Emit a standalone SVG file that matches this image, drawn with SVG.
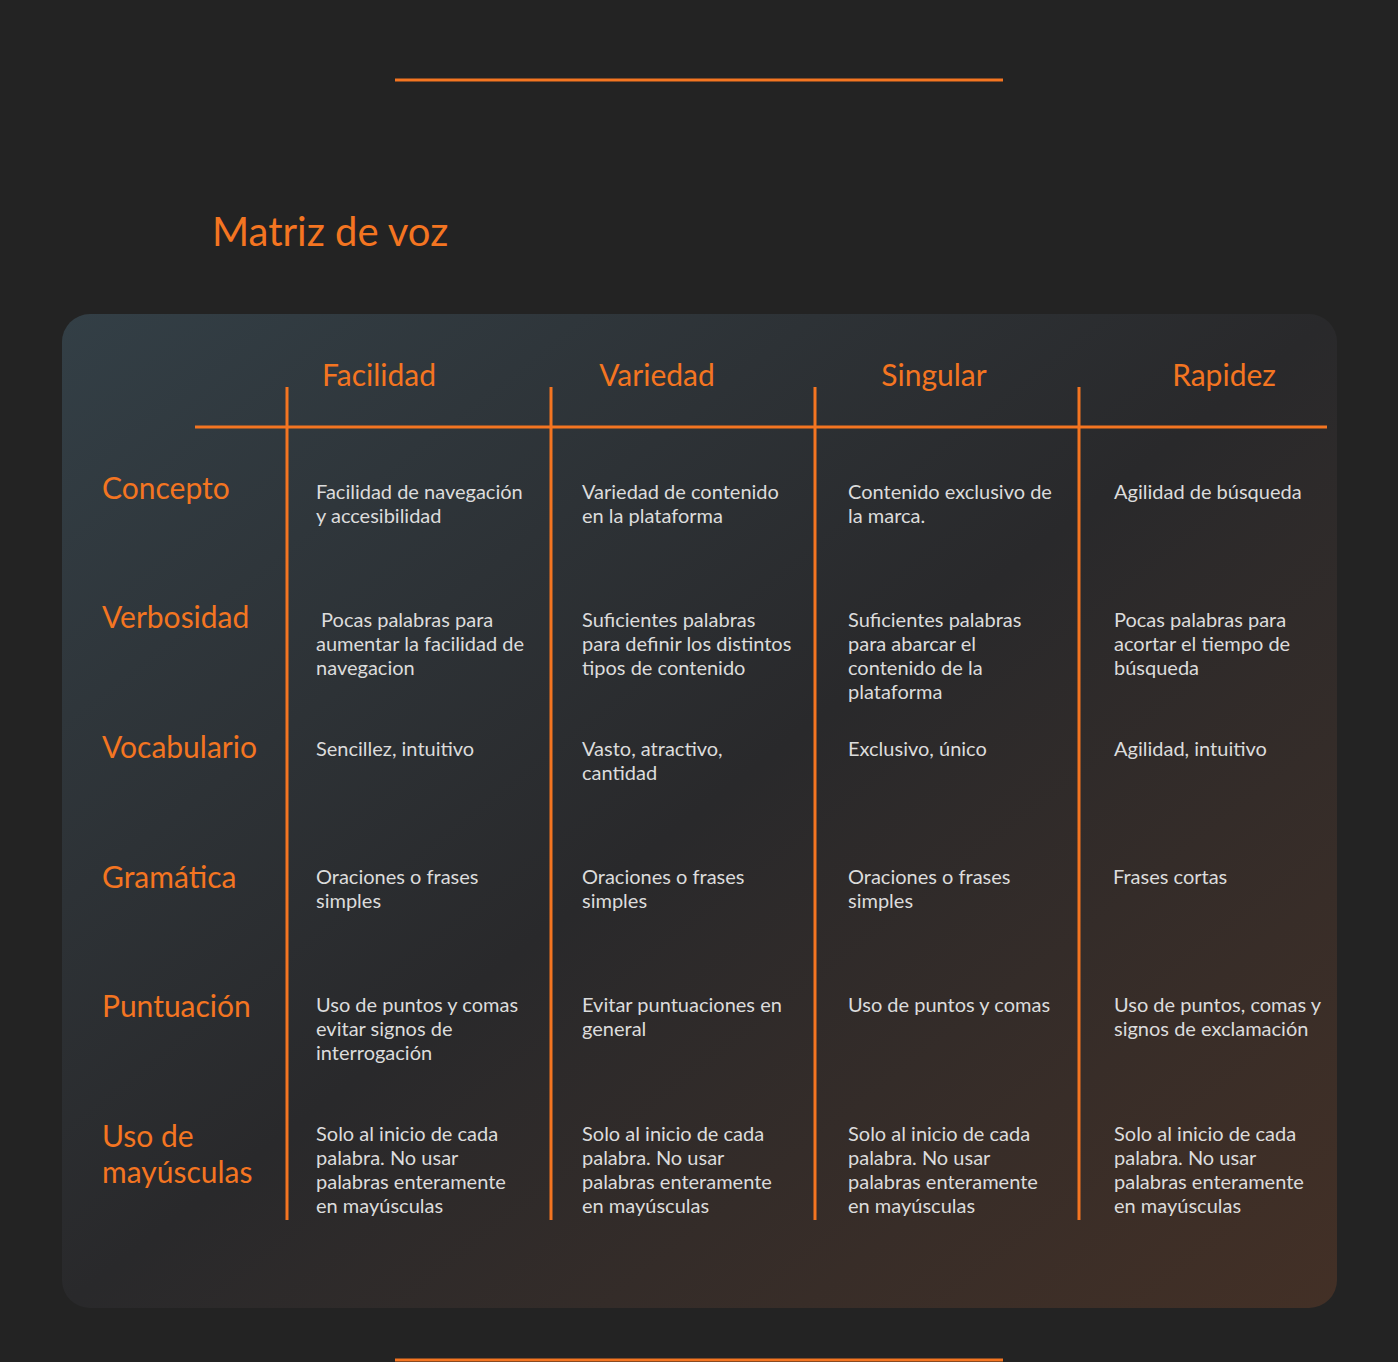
<svg xmlns="http://www.w3.org/2000/svg" width="1398" height="1362" viewBox="0 0 1398 1362">
<style>
.hd{font-family:Lato,"Open Sans","Liberation Sans",sans-serif;font-size:30px;fill:#f47521}
.ch{text-anchor:middle}
.cell{font-family:Lato,"Open Sans","Liberation Sans",sans-serif;font-size:20px;fill:#dcdcdc}
.ln{stroke:#f47521;stroke-width:3;fill:none}
</style>
<defs>
<linearGradient id="card" x1="0" y1="0" x2="1" y2="1">
<stop offset="0" stop-color="#333f46"/>
<stop offset="0.5" stop-color="#29292b"/>
<stop offset="1" stop-color="#433026"/>
</linearGradient>
</defs>
<rect width="1398" height="1362" fill="#232323"/>
<line class="ln" x1="395" y1="80" x2="1003" y2="80"/>
<line class="ln" x1="395" y1="1360" x2="1003" y2="1360"/>
<text x="212" y="246" font-family="Lato,'Open Sans','Liberation Sans',sans-serif" font-size="40" fill="#f47521">Matriz de voz</text>
<rect x="62" y="314" width="1275" height="994" rx="28" fill="url(#card)"/>
<g id="grid">
<line class="ln" x1="195" y1="427" x2="1327" y2="427"/>
<line class="ln" x1="287" y1="387" x2="287" y2="1220"/>
<line class="ln" x1="551" y1="387" x2="551" y2="1220"/>
<line class="ln" x1="815" y1="387" x2="815" y2="1220"/>
<line class="ln" x1="1079" y1="387" x2="1079" y2="1220"/>
</g>
<g id="col-headers">
<text class="hd ch" x="379" y="386">Facilidad</text>
<text class="hd ch" x="657" y="386">Variedad</text>
<text class="hd ch" x="934" y="386">Singular</text>
<text class="hd ch" x="1224" y="386">Rapidez</text>
</g>
<g id="row-headers">
<text class="hd" x="102" y="499">Concepto</text>
<text class="hd" x="102" y="628">Verbosidad</text>
<text class="hd" x="102" y="758">Vocabulario</text>
<text class="hd" x="102" y="888">Gramática</text>
<text class="hd" x="102" y="1017">Puntuación</text>
<text class="hd" x="102" y="1147">Uso de<tspan x="102" dy="36">mayúsculas</tspan></text>
</g>
<g id="row-concepto">
<text class="cell" x="316" y="499">Facilidad de navegación<tspan x="316" dy="24">y accesibilidad</tspan></text>
<text class="cell" x="582" y="499">Variedad de contenido<tspan x="582" dy="24">en la plataforma</tspan></text>
<text class="cell" x="848" y="499">Contenido exclusivo de<tspan x="848" dy="24">la marca.</tspan></text>
<text class="cell" x="1114" y="499">Agilidad de búsqueda</text>
</g>
<g id="row-verbosidad">
<text class="cell" x="316" y="627" xml:space="preserve"> Pocas palabras para<tspan x="316" dy="24">aumentar la facilidad de</tspan><tspan x="316" dy="24">navegacion</tspan></text>
<text class="cell" x="582" y="627">Suficientes palabras<tspan x="582" dy="24">para definir los distintos</tspan><tspan x="582" dy="24">tipos de contenido</tspan></text>
<text class="cell" x="848" y="627">Suficientes palabras<tspan x="848" dy="24">para abarcar el</tspan><tspan x="848" dy="24">contenido de la</tspan><tspan x="848" dy="24">plataforma</tspan></text>
<text class="cell" x="1114" y="627">Pocas palabras para<tspan x="1114" dy="24">acortar el tiempo de</tspan><tspan x="1114" dy="24">búsqueda</tspan></text>
</g>
<g id="row-vocabulario">
<text class="cell" x="316" y="756">Sencillez, intuitivo</text>
<text class="cell" x="582" y="756">Vasto, atractivo,<tspan x="582" dy="24">cantidad</tspan></text>
<text class="cell" x="848" y="756">Exclusivo, único</text>
<text class="cell" x="1114" y="756">Agilidad, intuitivo</text>
</g>
<g id="row-gramatica">
<text class="cell" x="316" y="884">Oraciones o frases<tspan x="316" dy="24">simples</tspan></text>
<text class="cell" x="582" y="884">Oraciones o frases<tspan x="582" dy="24">simples</tspan></text>
<text class="cell" x="848" y="884">Oraciones o frases<tspan x="848" dy="24">simples</tspan></text>
<text class="cell" x="1113" y="884">Frases cortas</text>
</g>
<g id="row-puntuacion">
<text class="cell" x="316" y="1012">Uso de puntos y comas<tspan x="316" dy="24">evitar signos de</tspan><tspan x="316" dy="24">interrogación</tspan></text>
<text class="cell" x="582" y="1012">Evitar puntuaciones en<tspan x="582" dy="24">general</tspan></text>
<text class="cell" x="848" y="1012">Uso de puntos y comas</text>
<text class="cell" x="1114" y="1012">Uso de puntos, comas y<tspan x="1114" dy="24">signos de exclamación</tspan></text>
</g>
<g id="row-mayusculas">
<text class="cell" x="316" y="1141">Solo al inicio de cada<tspan x="316" dy="24">palabra. No usar</tspan><tspan x="316" dy="24">palabras enteramente</tspan><tspan x="316" dy="24">en mayúsculas</tspan></text>
<text class="cell" x="582" y="1141">Solo al inicio de cada<tspan x="582" dy="24">palabra. No usar</tspan><tspan x="582" dy="24">palabras enteramente</tspan><tspan x="582" dy="24">en mayúsculas</tspan></text>
<text class="cell" x="848" y="1141">Solo al inicio de cada<tspan x="848" dy="24">palabra. No usar</tspan><tspan x="848" dy="24">palabras enteramente</tspan><tspan x="848" dy="24">en mayúsculas</tspan></text>
<text class="cell" x="1114" y="1141">Solo al inicio de cada<tspan x="1114" dy="24">palabra. No usar</tspan><tspan x="1114" dy="24">palabras enteramente</tspan><tspan x="1114" dy="24">en mayúsculas</tspan></text>
</g>
</svg>
